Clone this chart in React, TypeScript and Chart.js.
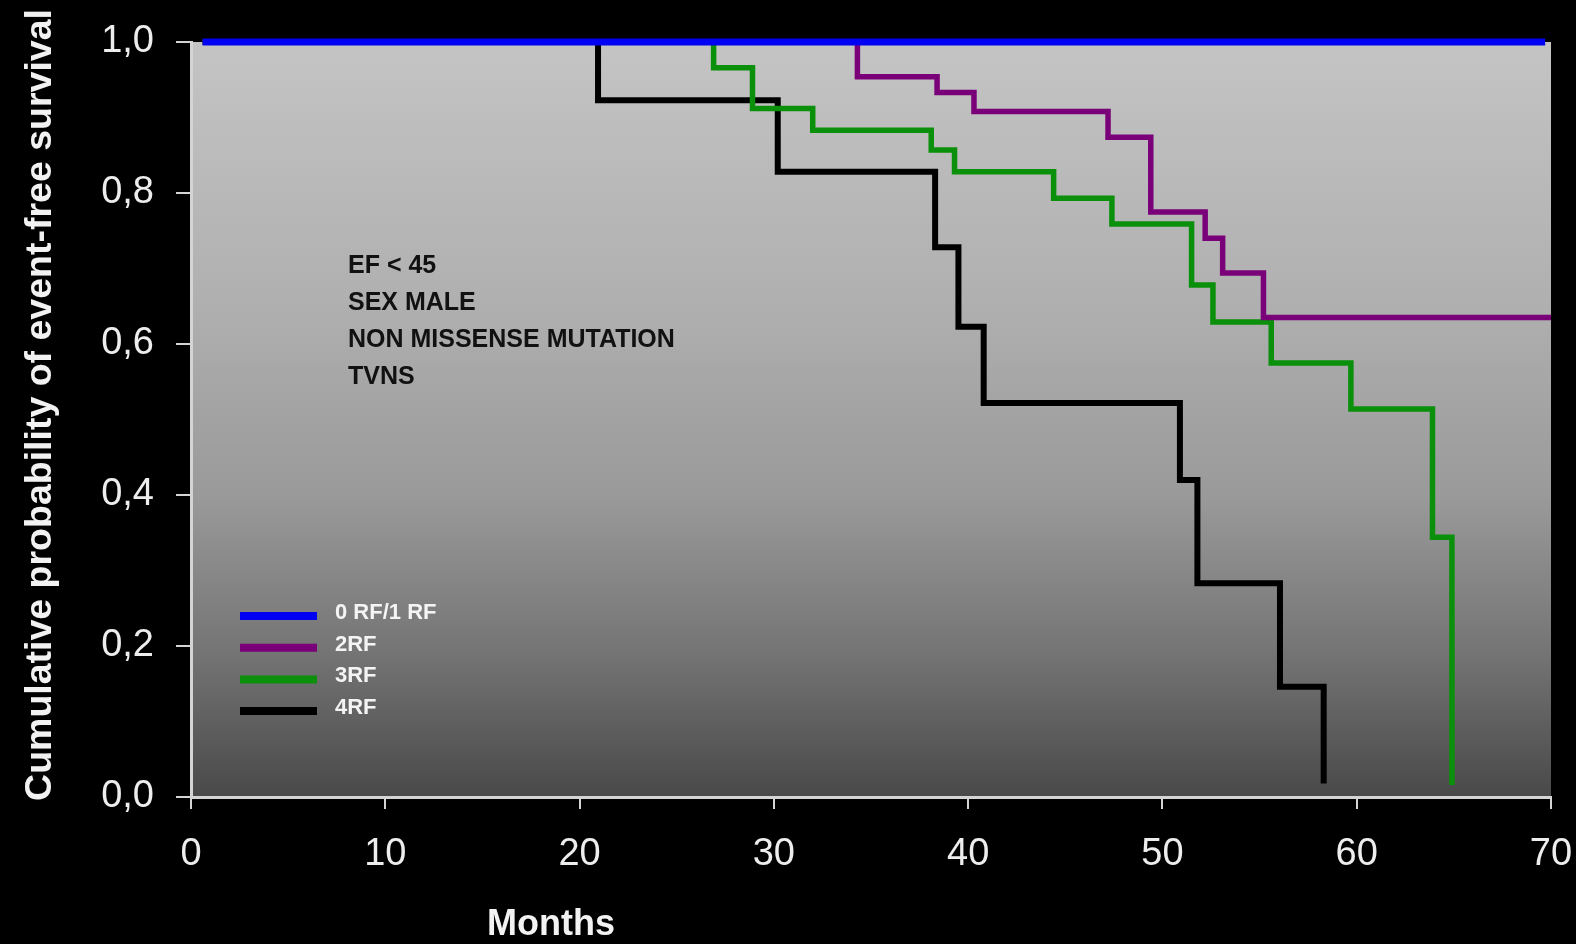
import React, { useEffect, useRef } from "react";
import { Chart, registerables } from "chart.js";

Chart.register(...registerables);

// Kaplan–Meier curves: months at which each step occurs and the survival after it
const seriesLabels = ["0 RF/1 RF", "2RF", "3RF", "4RF"];
const seriesColors = ["#0000f2", "#7a007a", "#0a900a", "#000000"];
const seriesWidths = [7, 5.5, 5.5, 6];

const rf01Months = [0.6, 69.7];
const rf01Survival = [1.0, 1.0];

const rf2Months = [0.6, 34.3, 38.4, 40.3, 47.2, 49.4, 52.2, 53.1, 55.2, 70];
const rf2Survival = [1.0, 0.954, 0.933, 0.908, 0.874, 0.775, 0.74, 0.694, 0.635, 0.635];

const rf3Months = [0.6, 26.9, 28.9, 32.0, 38.1, 39.3, 44.4, 47.4, 51.5, 52.6, 55.6, 59.7, 63.9, 64.9];
const rf3Survival = [1.0, 0.966, 0.912, 0.883, 0.857, 0.828, 0.793, 0.759, 0.678, 0.629, 0.575, 0.514, 0.344, 0.016];

const rf4Months = [0.6, 20.95, 30.2, 38.3, 39.5, 40.8, 50.9, 51.8, 56.05, 58.3];
const rf4Survival = [1.0, 0.923, 0.828, 0.728, 0.623, 0.522, 0.42, 0.283, 0.146, 0.018];

const xTicks = [0, 10, 20, 30, 40, 50, 60, 70];
const yTicks = [0, 0.2, 0.4, 0.6, 0.8, 1.0];

const noteLines = ["EF < 45", "SEX MALE", "NON MISSENSE MUTATION", "TVNS"];
const xTitle = "Months";
const yTitle = "Cumulative probability of event-free survival";

const FONT = "'Liberation Sans', Arial, Helvetica, sans-serif";

const toPoints = (xs: number[], ys: number[]) => xs.map((x, i) => ({ x, y: ys[i] }));

// plot-area gradient, light at the top and dark at the bottom
const backdrop = {
  id: "backdrop",
  beforeDraw(chart: any) {
    const { ctx, chartArea: a, width, height } = chart;
    ctx.save();
    ctx.fillStyle = "#000";
    ctx.fillRect(0, 0, width, height);
    const g = ctx.createLinearGradient(0, a.top, 0, a.bottom);
    g.addColorStop(0, "#c4c4c4");
    g.addColorStop(0.34, "#b0b0b0");
    g.addColorStop(0.6, "#9a9a9a");
    g.addColorStop(0.8, "#767676");
    g.addColorStop(1, "#494949");
    ctx.fillStyle = g;
    ctx.fillRect(a.left, a.top, a.right - a.left, a.bottom - a.top);
    ctx.restore();
  },
};

// legend, risk-factor notes and axis titles
const decorations = {
  id: "decorations",
  afterDraw(chart: any) {
    const { ctx } = chart;
    ctx.save();

    // notes
    ctx.fillStyle = "#111";
    ctx.font = `bold 25px ${FONT}`;
    ctx.textAlign = "left";
    ctx.textBaseline = "middle";
    noteLines.forEach((t, i) => ctx.fillText(t, 348, 266 + i * 37));

    // legend
    const ds = chart.data.datasets;
    ds.forEach((d: any, i: number) => {
      const y = 616 + i * 31.7;
      ctx.strokeStyle = d.borderColor;
      ctx.lineWidth = 8;
      ctx.beginPath();
      ctx.moveTo(240, y);
      ctx.lineTo(317, y);
      ctx.stroke();
      ctx.fillStyle = "#f4f4f4";
      ctx.font = `bold 22px ${FONT}`;
      ctx.fillText(d.label, 335, y - 3);
    });

    // x title
    ctx.fillStyle = "#f2f2f2";
    ctx.font = `bold 36px ${FONT}`;
    ctx.textAlign = "center";
    ctx.textBaseline = "alphabetic";
    ctx.fillText(xTitle, 551, 935);

    // y title
    ctx.translate(51, 405);
    ctx.rotate(-Math.PI / 2);
    ctx.font = `bold 37.5px ${FONT}`;
    ctx.fillText(yTitle, 0, 0);
    ctx.restore();
  },
};

export default function App() {
  const ref = useRef<HTMLCanvasElement | null>(null);

  useEffect(() => {
    const canvas = ref.current;
    if (!canvas) return;
    const all = [
      [rf01Months, rf01Survival],
      [rf2Months, rf2Survival],
      [rf3Months, rf3Survival],
      [rf4Months, rf4Survival],
    ];
    const chart = new Chart(canvas, {
      type: "line",
      data: {
        datasets: all.map(([xs, ys], i) => ({
          label: seriesLabels[i],
          data: toPoints(xs, ys),
          borderColor: seriesColors[i],
          backgroundColor: seriesColors[i],
          borderWidth: seriesWidths[i],
          stepped: "before" as const,
          pointRadius: 0,
          fill: false,
          clip: false as any,
          borderCapStyle: "butt" as const,
          borderJoinStyle: "miter" as const,
        })),
      },
      options: {
        responsive: false,
        animation: false,
        devicePixelRatio: 1,
        layout: { padding: { top: 42, right: 25, left: 0, bottom: 0 } },
        plugins: { legend: { display: false }, tooltip: { enabled: false } },
        events: [],
        scales: {
          x: {
            type: "linear",
            min: 0,
            max: 70,
            afterBuildTicks: (s: any) => {
              s.ticks = xTicks.map((v) => ({ value: v }));
            },
            afterFit: (s: any) => {
              s.height = 147;
              s.paddingLeft = 0;
              s.paddingRight = 0;
            },
            ticks: {
              color: "#ededed",
              font: { family: FONT, size: 38 },
              padding: 23,
              maxRotation: 0,
              callback: (v: any) => String(v),
            },
            grid: {
              drawOnChartArea: false,
              drawTicks: true,
              tickLength: 12,
              color: "#d4d4d4",
              lineWidth: 2,
            },
            border: { display: true, color: "#d4d4d4", width: 3 },
          },
          y: {
            type: "linear",
            min: 0,
            max: 1,
            afterBuildTicks: (s: any) => {
              s.ticks = yTicks.map((v) => ({ value: v }));
            },
            afterFit: (s: any) => {
              s.width = 191;
              s.paddingTop = 0;
              s.paddingBottom = 0;
            },
            ticks: {
              color: "#ededed",
              font: { family: FONT, size: 38 },
              padding: 22,
              callback: (v: any) => Number(v).toFixed(1).replace(".", ","),
            },
            grid: {
              drawOnChartArea: false,
              drawTicks: true,
              tickLength: 15,
              color: "#d4d4d4",
              lineWidth: 2,
            },
            border: { display: true, color: "#d4d4d4", width: 3 },
          },
        },
      },
      plugins: [backdrop, decorations],
    });
    return () => chart.destroy();
  }, []);

  return (
    <div
      style={{
        position: "fixed",
        left: 0,
        top: 0,
        width: 1576,
        height: 944,
        background: "#000",
        overflow: "hidden",
      }}
    >
      <canvas ref={ref} width={1576} height={944} style={{ display: "block", width: 1576, height: 944 }} />
    </div>
  );
}
